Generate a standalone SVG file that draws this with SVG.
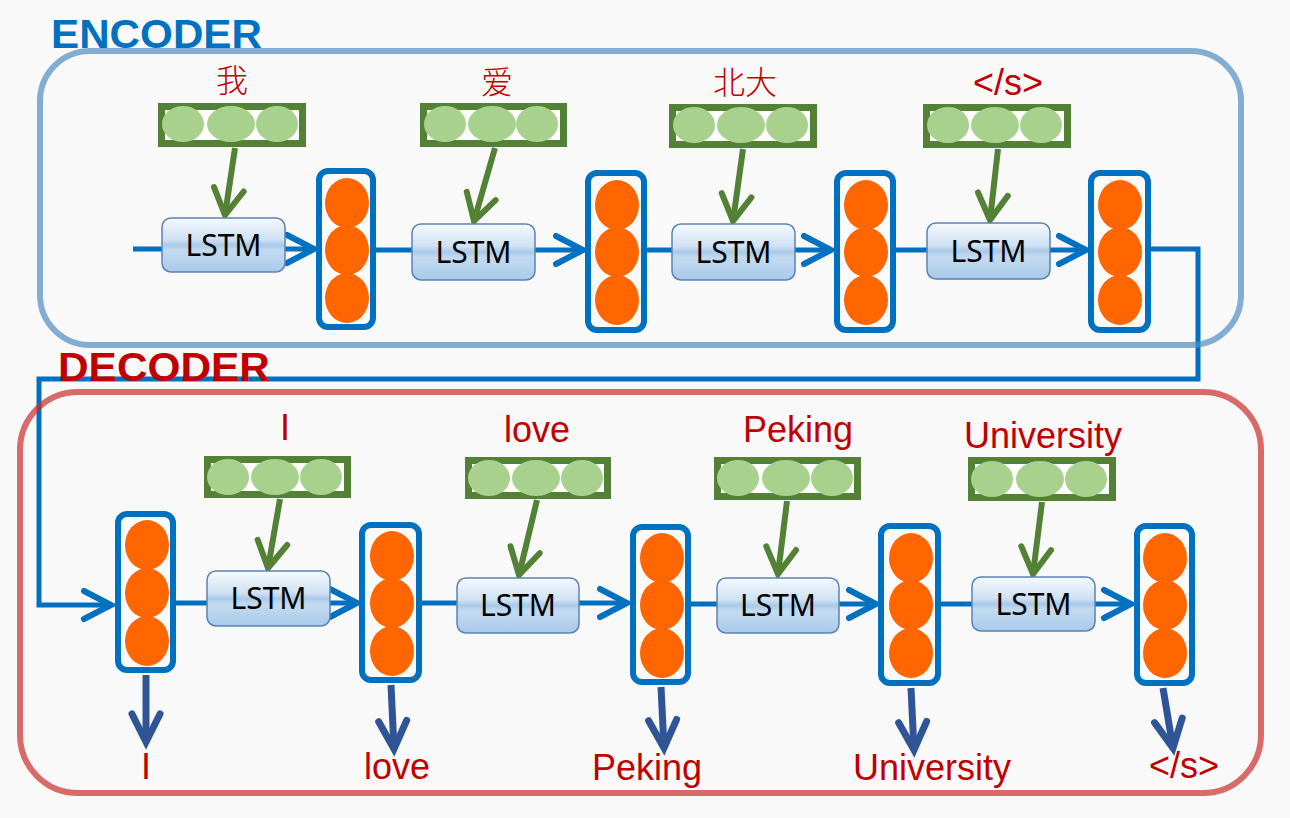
<svg xmlns="http://www.w3.org/2000/svg" width="1290" height="818" viewBox="0 0 1290 818">
<style>
.bg{fill:#f9f9f9}
.title{font-family:"Liberation Sans",Arial,sans-serif;font-weight:bold;font-size:40px}
.lbl{font-family:"Liberation Sans",Arial,sans-serif;font-size:36px;fill:#c00000;text-anchor:middle}
.cjk{font-family:"Noto Sans CJK SC",sans-serif;font-weight:300;font-size:32px;fill:#c00000;text-anchor:middle}
.lstm rect{fill:url(#lg);stroke:#5a82b4;stroke-width:1.5}
.lstm text{font-family:"Noto Sans","Liberation Sans",sans-serif;font-size:30px;fill:#000;text-anchor:middle}
.state rect{fill:#fafafa;stroke:#0070c0;stroke-width:6}
.state ellipse{fill:#ff6600}
.emb rect{fill:#fff;stroke:#538135;stroke-width:7}
.emb ellipse{fill:#a9d18e}
.blue{fill:none;stroke:#0070c0;stroke-width:5;marker-end:url(#mb)}
.green{fill:none;stroke:#538135;stroke-width:6;marker-end:url(#mg)}
.out{fill:none;stroke:#2f5597;stroke-width:7;marker-end:url(#md)}
</style>
<defs>
<linearGradient id="lg" x1="0" y1="0" x2="0" y2="1">
<stop offset="0" stop-color="#f5f9fd"/>
<stop offset="0.4" stop-color="#cfe1f3"/>
<stop offset="0.5" stop-color="#a9c9e8"/>
<stop offset="0.6" stop-color="#c3dbf1"/>
<stop offset="1" stop-color="#a8cae9"/>
</linearGradient>
<marker id="mb" markerUnits="userSpaceOnUse" orient="auto" viewBox="-34 -20 40 40" refX="0" refY="0" markerWidth="40" markerHeight="40" overflow="visible">
<path d="M-27,-14 L0,0 L-27,14" fill="none" stroke="#0070c0" stroke-width="6" stroke-linecap="round" stroke-linejoin="miter"/>
</marker>
<marker id="mg" markerUnits="userSpaceOnUse" orient="auto" viewBox="-34 -20 40 40" refX="0" refY="0" markerWidth="40" markerHeight="40" overflow="visible">
<path d="M-26,-15 L0,0 L-26,15" fill="none" stroke="#538135" stroke-width="6" stroke-linecap="round" stroke-linejoin="miter"/>
</marker>
<marker id="md" markerUnits="userSpaceOnUse" orient="auto" viewBox="-34 -20 40 40" refX="0" refY="0" markerWidth="40" markerHeight="40" overflow="visible">
<path d="M-28,-14 L0,0 L-28,14" fill="none" stroke="#2f5597" stroke-width="7" stroke-linecap="round" stroke-linejoin="miter"/>
</marker>
</defs>
<rect class="bg" x="0" y="0" width="1290" height="818"/>

<g id="connectors">
<path class="blue" d="M133,249 H314"/>
<path class="blue" d="M376,250 H583"/>
<path class="blue" d="M647,250 H831"/>
<path class="blue" d="M896,250 H1086"/>
<path class="blue" d="M1151,249 H1198 V379 H39 V605 H111"/>
<path class="blue" d="M176,603 H357"/>
<path class="blue" d="M422,603 H627"/>
<path class="blue" d="M691,604 H876"/>
<path class="blue" d="M941,604 H1131"/>
<path class="green" d="M235,148 L225,215"/>
<path class="green" d="M495,148 L474,221"/>
<path class="green" d="M743,149 L733,221"/>
<path class="green" d="M998,149 L990,220"/>
<path class="green" d="M280,499 L268,568"/>
<path class="green" d="M537,500 L519,575"/>
<path class="green" d="M787,501 L778,574"/>
<path class="green" d="M1042,502 L1033,574"/>
<path class="out" d="M146,675 L146,742"/>
<path class="out" d="M391,685 L394,749"/>
<path class="out" d="M661,687 L664,748"/>
<path class="out" d="M911,688 L914,750"/>
<path class="out" d="M1163,688 L1173,748"/>
</g>

<g id="encoder-box"><rect x="40" y="51" width="1201" height="294" rx="50" fill="none" stroke="#538dc2" stroke-opacity="0.7" stroke-width="6"/></g>
<g id="decoder-box"><rect x="20" y="392" width="1241" height="401" rx="58" fill="none" stroke="#cb2e2e" stroke-opacity="0.7" stroke-width="6"/></g>
<g id="encoder-title"><text class="title" x="51" y="48" fill="#0070c0" textLength="211" lengthAdjust="spacingAndGlyphs">ENCODER</text></g>
<g id="decoder-title"><text class="title" x="58" y="381" fill="#c00000" textLength="212" lengthAdjust="spacingAndGlyphs">DECODER</text></g>

<!-- encoder embeddings -->
<g id="enc-emb1" class="emb"><text class="cjk" x="232" y="92">我</text><rect x="161.5" y="106.5" width="141" height="37"/><ellipse cx="183" cy="124" rx="21" ry="18"/><ellipse cx="231" cy="124" rx="24" ry="18"/><ellipse cx="277" cy="124" rx="21" ry="18"/></g>
<g id="enc-emb2" class="emb"><text class="cjk" x="497" y="94">爱</text><rect x="423.5" y="106.5" width="140" height="37"/><ellipse cx="445" cy="124" rx="21" ry="18"/><ellipse cx="492" cy="124" rx="24" ry="18"/><ellipse cx="537" cy="124" rx="21" ry="18"/></g>
<g id="enc-emb3" class="emb"><text class="cjk" x="745" y="94">北大</text><rect x="672.5" y="107.5" width="141" height="37"/><ellipse cx="694" cy="125" rx="21" ry="18"/><ellipse cx="741" cy="125" rx="24" ry="18"/><ellipse cx="787" cy="125" rx="21" ry="18"/></g>
<g id="enc-emb4" class="emb"><text class="lbl" x="1008" y="95">&lt;/s&gt;</text><rect x="926.5" y="107.5" width="141" height="37"/><ellipse cx="948" cy="125" rx="21" ry="18"/><ellipse cx="995" cy="125" rx="24" ry="18"/><ellipse cx="1041" cy="125" rx="21" ry="18"/></g>

<!-- encoder LSTMs -->
<g id="enc-lstm1" class="lstm"><rect x="162" y="218" width="123" height="54" rx="9"/><text x="223.5" y="256">LSTM</text></g>
<g id="enc-lstm2" class="lstm"><rect x="412" y="224" width="123" height="56" rx="9"/><text x="473.5" y="263">LSTM</text></g>
<g id="enc-lstm3" class="lstm"><rect x="672" y="224" width="123" height="56" rx="9"/><text x="733.5" y="263">LSTM</text></g>
<g id="enc-lstm4" class="lstm"><rect x="927" y="223" width="123" height="56" rx="9"/><text x="988.5" y="262">LSTM</text></g>

<!-- encoder states -->
<g id="enc-h1" class="state"><rect x="319" y="171" width="54" height="156" rx="9"/><ellipse cx="347" cy="203" rx="22" ry="25"/><ellipse cx="347" cy="250" rx="22" ry="25"/><ellipse cx="347" cy="298" rx="22" ry="25"/></g>
<g id="enc-h2" class="state"><rect x="588" y="173" width="56" height="157" rx="9"/><ellipse cx="617" cy="205" rx="22" ry="25"/><ellipse cx="617" cy="252" rx="22" ry="25"/><ellipse cx="617" cy="300" rx="22" ry="25"/></g>
<g id="enc-h3" class="state"><rect x="837" y="173" width="56" height="157" rx="9"/><ellipse cx="866" cy="205" rx="22" ry="25"/><ellipse cx="866" cy="252" rx="22" ry="25"/><ellipse cx="866" cy="300" rx="22" ry="25"/></g>
<g id="enc-h4" class="state"><rect x="1091" y="173" width="57" height="157" rx="9"/><ellipse cx="1120" cy="205" rx="22" ry="25"/><ellipse cx="1120" cy="252" rx="22" ry="25"/><ellipse cx="1120" cy="300" rx="22" ry="25"/></g>

<!-- decoder embeddings -->
<g id="dec-emb1" class="emb"><text class="lbl" x="285" y="440">I</text><rect x="207.5" y="459.5" width="140" height="35"/><ellipse cx="228" cy="477" rx="21" ry="18"/><ellipse cx="275" cy="477" rx="24" ry="18"/><ellipse cx="321" cy="477" rx="21" ry="18"/></g>
<g id="dec-emb2" class="emb"><text class="lbl" x="537" y="442">love</text><rect x="468.5" y="460.5" width="139" height="35"/><ellipse cx="489" cy="478" rx="21" ry="18"/><ellipse cx="536" cy="478" rx="24" ry="18"/><ellipse cx="582" cy="478" rx="21" ry="18"/></g>
<g id="dec-emb3" class="emb"><text class="lbl" x="798" y="442">Peking</text><rect x="717.5" y="460.5" width="140" height="36"/><ellipse cx="738" cy="478" rx="21" ry="18"/><ellipse cx="786" cy="478" rx="24" ry="18"/><ellipse cx="832" cy="478" rx="21" ry="18"/></g>
<g id="dec-emb4" class="emb"><text class="lbl" x="1043" y="448">University</text><rect x="971.5" y="460.5" width="141" height="37"/><ellipse cx="992" cy="479" rx="21" ry="18"/><ellipse cx="1040" cy="479" rx="24" ry="18"/><ellipse cx="1086" cy="479" rx="21" ry="18"/></g>

<!-- decoder LSTMs -->
<g id="dec-lstm1" class="lstm"><rect x="207" y="571" width="123" height="55" rx="9"/><text x="268.5" y="609">LSTM</text></g>
<g id="dec-lstm2" class="lstm"><rect x="457" y="578" width="122" height="55" rx="9"/><text x="518" y="616">LSTM</text></g>
<g id="dec-lstm3" class="lstm"><rect x="717" y="578" width="122" height="55" rx="9"/><text x="778" y="616">LSTM</text></g>
<g id="dec-lstm4" class="lstm"><rect x="972" y="577" width="123" height="54" rx="9"/><text x="1033.5" y="615">LSTM</text></g>

<!-- decoder states -->
<g id="dec-h1" class="state"><rect x="118" y="514" width="55" height="156" rx="9"/><ellipse cx="147" cy="545" rx="22" ry="25"/><ellipse cx="147" cy="593" rx="22" ry="25"/><ellipse cx="147" cy="641" rx="22" ry="25"/></g>
<g id="dec-h2" class="state"><rect x="362" y="525" width="57" height="155" rx="9"/><ellipse cx="392" cy="556" rx="22" ry="25"/><ellipse cx="392" cy="603" rx="22" ry="25"/><ellipse cx="392" cy="651" rx="22" ry="25"/></g>
<g id="dec-h3" class="state"><rect x="633" y="527" width="55" height="155" rx="9"/><ellipse cx="662" cy="558" rx="22" ry="25"/><ellipse cx="662" cy="605" rx="22" ry="25"/><ellipse cx="662" cy="653" rx="22" ry="25"/></g>
<g id="dec-h4" class="state"><rect x="881" y="526" width="57" height="157" rx="9"/><ellipse cx="911" cy="558" rx="22" ry="25"/><ellipse cx="911" cy="605" rx="22" ry="25"/><ellipse cx="911" cy="653" rx="22" ry="25"/></g>
<g id="dec-h5" class="state"><rect x="1137" y="526" width="55" height="157" rx="9"/><ellipse cx="1165" cy="558" rx="22" ry="25"/><ellipse cx="1165" cy="605" rx="22" ry="25"/><ellipse cx="1165" cy="653" rx="22" ry="25"/></g>

<!-- outputs -->
<g id="out1"><text class="lbl" x="146" y="779">I</text></g>
<g id="out2"><text class="lbl" x="397" y="779">love</text></g>
<g id="out3"><text class="lbl" x="647" y="780">Peking</text></g>
<g id="out4"><text class="lbl" x="932" y="780">University</text></g>
<g id="out5"><text class="lbl" x="1184" y="778">&lt;/s&gt;</text></g>
</svg>
